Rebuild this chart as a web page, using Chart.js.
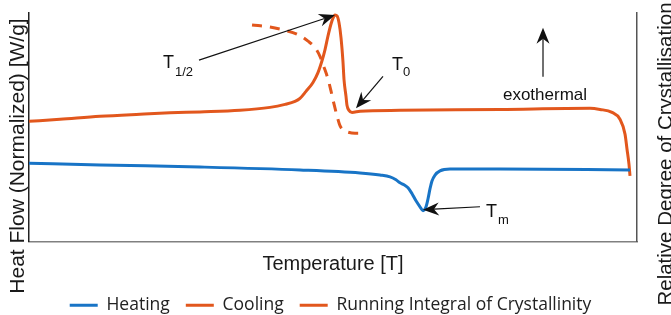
<!DOCTYPE html>
<html>
<head>
<meta charset="utf-8">
<script src="https://cdn.jsdelivr.net/npm/chart.js@4.4.1/dist/chart.umd.min.js"></script>
<style>
  html, body { margin: 0; padding: 0; background: #fff; }
</style>
</head>
<body>
<canvas id="dsc" width="671" height="315"></canvas>
<script>
// temperature in arbitrary units (0..100), heat flow normalised (0..10)
const heatingTemp = [0, 11.68, 28.13, 44.57, 54.44, 57.73, 59.38, 60.36, 61.02, 61.68, 62.34, 63.0, 63.65, 64.31, 64.8, 65.3, 65.63, 65.95, 66.28, 66.78, 67.6, 69.24, 77.47, 98.85];
const heatingFlow = [3.43, 3.35, 3.26, 3.13, 3.0, 2.91, 2.83, 2.7, 2.57, 2.48, 2.35, 2.09, 1.78, 1.52, 1.35, 1.52, 1.87, 2.3, 2.65, 2.91, 3.09, 3.17, 3.17, 3.13];

const coolingTemp = [0, 5.1, 11.68, 18.26, 23.19, 28.13, 34.7, 39.64, 42.11, 43.75, 44.57, 45.56, 46.71, 47.53, 48.19, 48.68, 49.18, 49.67, 50.0, 50.33, 50.66, 50.99, 51.32, 51.64, 51.81, 52.14, 52.3, 52.63, 53.13, 54.44, 61.02, 77.47, 92.27, 93.91, 95.89, 97.2, 98.03, 98.36, 98.68, 98.85];
const coolingFlow = [5.26, 5.35, 5.48, 5.57, 5.63, 5.67, 5.74, 5.87, 6.0, 6.13, 6.26, 6.57, 6.96, 7.39, 7.91, 8.39, 9.0, 9.52, 9.78, 9.91, 9.87, 9.57, 8.91, 7.87, 7.09, 6.35, 5.96, 5.74, 5.65, 5.7, 5.74, 5.78, 5.83, 5.78, 5.65, 5.35, 4.7, 4.04, 3.39, 2.87];

// relative degree of crystallisation (0..1), right axis
const integralTemp = [36.68, 39.64, 42.11, 44.24, 45.89, 47.04, 47.86, 48.52, 49.18, 49.67, 50.16, 50.66, 51.15, 51.64, 52.47, 53.62, 54.93];
const integralDegree = [1.0, 0.98, 0.95, 0.91, 0.85, 0.79, 0.71, 0.61, 0.5, 0.39, 0.27, 0.16, 0.07, 0.03, 0.01, 0.0, 0.0];

const seriesNames = ['Heating', 'Cooling', 'Running Integral of Crystallinity'];
const blue = '#1874C6';
const orange = '#E2571D';

function toPoints(xs, ys) {
    return xs.map((t, i) => ({ x: t, y: ys[i] }));
}

// little black arrow with a stealth head
function drawArrow(ctx, x0, y0, x1, y1) {
    const a = Math.atan2(y1 - y0, x1 - x0);
    const len = 16, half = 6.5, notch = 11;
    ctx.beginPath();
    ctx.moveTo(x0, y0);
    ctx.lineTo(x1 - Math.cos(a) * notch, y1 - Math.sin(a) * notch);
    ctx.stroke();
    ctx.save();
    ctx.translate(x1, y1);
    ctx.rotate(a);
    ctx.beginPath();
    ctx.moveTo(0, 0);
    ctx.lineTo(-len, -half);
    ctx.lineTo(-notch, 0);
    ctx.lineTo(-len, half);
    ctx.closePath();
    ctx.fill();
    ctx.restore();
}

const notesPlugin = {
    id: 'dscNotes',
    afterDraw(chart) {
        const ctx = chart.ctx;
        const x = chart.scales.x, y = chart.scales.y;
        const px = v => x.getPixelForValue(v);
        const py = v => y.getPixelForValue(v);
        ctx.save();
        ctx.strokeStyle = '#111';
        ctx.fillStyle = '#111';
        ctx.lineWidth = 1.2;

        // T 1/2 -> peak of the cooling curve
        let tx = px(50.33), ty = py(9.91);
        drawArrow(ctx, tx - 136, ty + 45, tx, ty);
        ctx.font = '18px "Liberation Sans"';
        ctx.fillText('T', tx - 172, ty + 48);
        ctx.font = '13px "Liberation Sans"';
        ctx.fillText('1/2', tx - 160, ty + 57);

        // T0 -> onset of crystallisation
        tx = px(53.78); ty = py(5.83);
        drawArrow(ctx, tx + 27, ty - 32, tx, ty);
        ctx.font = '18px "Liberation Sans"';
        ctx.fillText('T', tx + 36, ty - 43);
        ctx.font = '13px "Liberation Sans"';
        ctx.fillText('0', tx + 47, ty - 36);

        // Tm -> melting minimum
        tx = px(64.8); ty = py(1.39);
        drawArrow(ctx, tx + 57, ty - 3, tx, ty);
        ctx.font = '18px "Liberation Sans"';
        ctx.fillText('T', tx + 63, ty + 2);
        ctx.font = '13px "Liberation Sans"';
        ctx.fillText('m', tx + 75, ty + 11);

        // exothermal direction
        tx = px(84.54); ty = py(9.35);
        drawArrow(ctx, tx, ty + 49, tx, ty);
        ctx.font = '17px "Liberation Sans"';
        ctx.textAlign = 'center';
        ctx.fillText('exothermal', tx + 2, ty + 67);

        // vertical axis titles
        ctx.fillStyle = '#1a1a1a';
        ctx.save();
        ctx.font = '21px "Liberation Sans"';
        ctx.translate(18, 156);
        ctx.rotate(-Math.PI / 2);
        ctx.fillText('Heat Flow (Normalized) [W/g]', 0, 0);
        ctx.restore();
        ctx.save();
        ctx.font = '20.5px "Liberation Sans"';
        ctx.translate(666, 154);
        ctx.rotate(-Math.PI / 2);
        ctx.fillText('Relative Degree of Crystallisation', 0, 0);
        ctx.restore();
        ctx.restore();
    }
};

Chart.defaults.font.family = '"Liberation Sans", Arial, sans-serif';

new Chart(document.getElementById('dsc'), {
    type: 'line',
    data: {
        datasets: [
            {
                label: seriesNames[0],
                data: toPoints(heatingTemp, heatingFlow),
                borderColor: blue,
                backgroundColor: blue,
                borderWidth: 3,
                yAxisID: 'y'
            },
            {
                label: seriesNames[1],
                data: toPoints(coolingTemp, coolingFlow),
                borderColor: orange,
                backgroundColor: orange,
                borderWidth: 3,
                yAxisID: 'y'
            },
            {
                label: seriesNames[2],
                data: toPoints(integralTemp, integralDegree),
                borderColor: orange,
                backgroundColor: orange,
                borderWidth: 3,
                borderDash: [10, 8],
                yAxisID: 'y2'
            }
        ]
    },
    options: {
        responsive: false,
        animation: false,
        parsing: false,
        elements: {
            point: { radius: 0 },
            line: { cubicInterpolationMode: 'monotone' }
        },
        layout: {
            padding: { top: 13, left: 0, right: 10, bottom: -9 }
        },
        scales: {
            x: {
                type: 'linear',
                min: 0,
                max: 100,
                grid: { display: false, drawTicks: false },
                ticks: { display: false },
                border: { color: '#808080', width: 1.5 },
                title: {
                    display: true,
                    text: 'Temperature [T]',
                    color: '#1a1a1a',
                    font: { size: 20 },
                    padding: { top: 0, bottom: 4 }
                },
                afterFit: function(scale) { scale.height = 39; }
            },
            y: {
                position: 'left',
                min: 0,
                max: 10,
                grid: { display: false, drawTicks: false },
                ticks: { display: false },
                border: { color: '#222', width: 1.5 },
                afterFit: function(scale) { scale.width = 29; }
            },
            y2: {
                position: 'right',
                min: -1,
                max: 1.11,
                grid: { display: false, drawTicks: false },
                ticks: { display: false },
                border: { color: '#555', width: 1.5 },
                afterFit: function(scale) { scale.width = 24; }
            }
        },
        plugins: {
            legend: {
                position: 'bottom',
                labels: {
                    usePointStyle: true,
                    pointStyle: 'line',
                    pointStyleWidth: 28,
                    padding: 16,
                    color: '#222',
                    font: { family: '"Open Sans"', size: 17.5 }
                }
            },
            tooltip: { enabled: false }
        }
    },
    plugins: [notesPlugin]
});
</script>
</body>
</html>
